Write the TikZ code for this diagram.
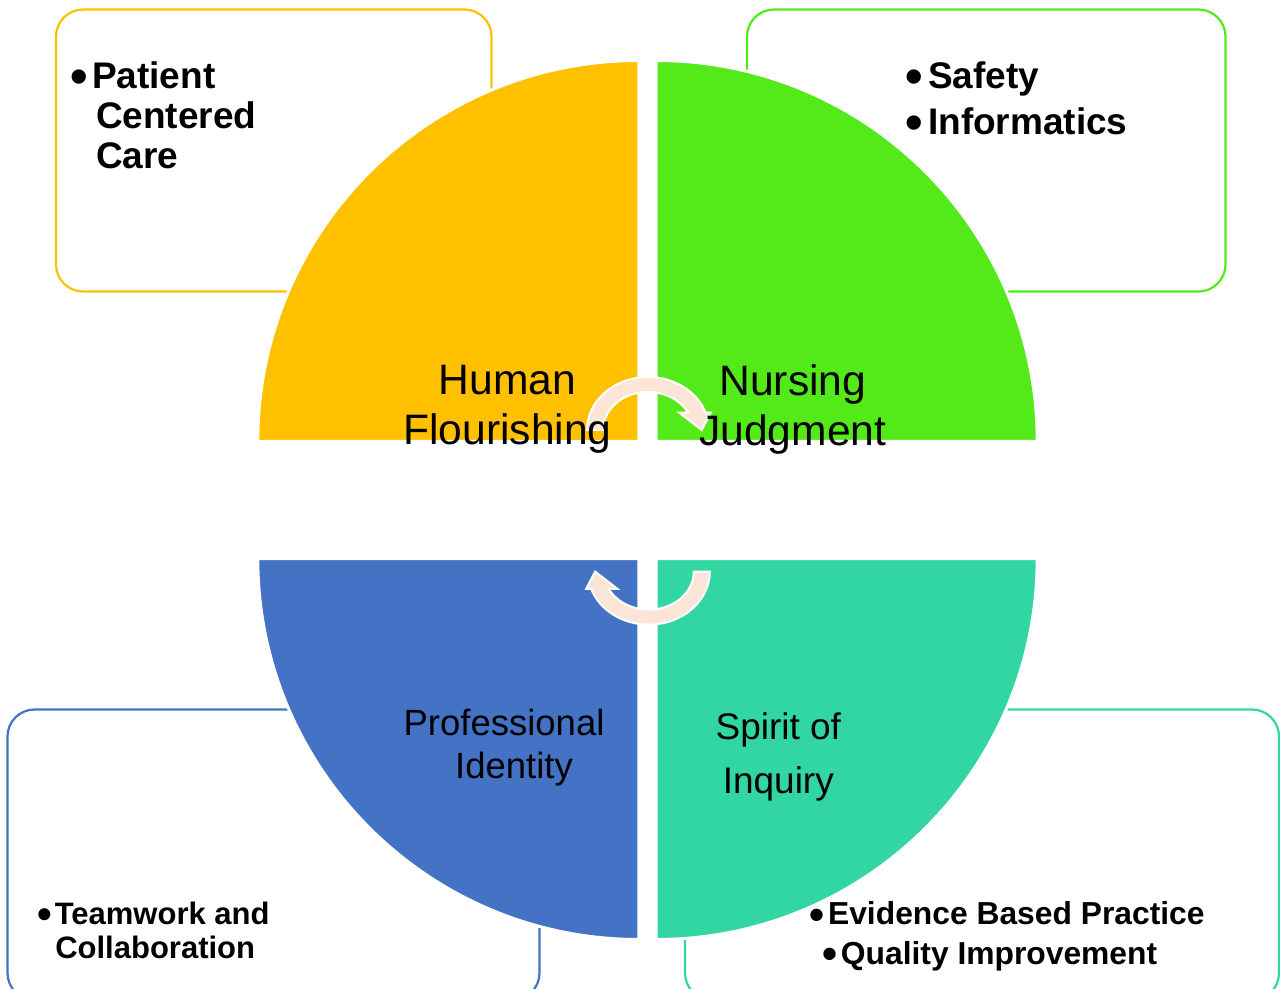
\documentclass[tikz,border=0pt]{standalone}
\usepackage{fontspec}
\setmainfont{Liberation Sans}
\usepackage{graphicx}
\definecolor{hfgold}{RGB}{255,192,0}
\definecolor{njgreen}{RGB}{84,234,26}
\definecolor{piblue}{RGB}{68,114,196}
\definecolor{siteal}{RGB}{50,214,163}
\definecolor{looppeach}{RGB}{251,229,214}
\newcommand{\bul}[1]{\makebox[#1][l]{\raisebox{-0.13em}{\scalebox{1.35}{\textbullet}}}}
\tikzset{
  panel/.style={rounded corners=13.5pt, line width=1.1pt},
  quarter/.style={draw=white, line width=1.5pt},
  biglabel/.style={font=\fontsize{21.3}{25}\selectfont, align=center, anchor=north, inner sep=0pt},
  midlabel/.style={align=center, anchor=north, inner sep=0pt},
  bulletlist/.style={align=left, anchor=north west, inner sep=0pt},
  looparrow/.pic={
    \path [fill=looppeach, draw=white, line width=1pt]
      (-61,0) arc[start angle=180, end angle=341, x radius=61, y radius=53]
      -- (62.7,-17.3) -- (53.7,0) -- (31.3,-17.3) -- (40.1,-17.3)
      arc[start angle=333, end angle=180, x radius=45, y radius=38] -- cycle;
  }
}

\begin{document}
\begin{tikzpicture}[x=0.5pt,y=0.5pt,yscale=-1,xscale=1]
\useasboundingbox (0,0) rectangle (1280,989);

%Shape: Rounded Rect [top left]
\draw [panel, draw=hfgold] (56,9.5) rectangle (491.5,291.5);
%Shape: Rounded Rect [top right]
\draw [panel, draw=njgreen] (747,9.5) rectangle (1225.5,291.5);
%Shape: Rounded Rect [bottom left]
\draw [panel, draw=piblue] (7.5,709.5) rectangle (539.5,1000);
%Shape: Rounded Rect [bottom right]
\draw [panel, draw=siteal] (685,709.5) rectangle (1279,1000);

%Shape: Quarter Circles
\path [quarter, fill=hfgold] (638.8,441.5) -- (257.8,441.5) arc[start angle=180, end angle=270, radius=381] -- cycle;
\path [quarter, fill=njgreen] (656.2,441.5) -- (656.2,60.5) arc[start angle=270, end angle=360, radius=381] -- cycle;
\path [quarter, fill=piblue] (638.8,558.5) -- (257.8,558.5) arc[start angle=180, end angle=90, radius=381] -- cycle;
\path [quarter, fill=siteal] (656.2,558.5) -- (1037.2,558.5) arc[start angle=0, end angle=90, radius=381] -- cycle;

%Shape: Circular Arrows
\pic [yscale=-1] at (648,430) {looparrow};
\pic [yscale=-1, rotate=180] at (648.8,571.6) {looparrow};

% Text Node
\node (hf) [biglabel] at (507.5,364.3) {Human\\Flourishing};
% Text Node
\node (nj) [biglabel] at (792.8,364.3) {Nursing\\Judgment};
% Text Node
\node (pi) [midlabel, font=\fontsize{18.25}{21.7}\selectfont] at (509,708.3) {Professional\hspace*{5pt}\\\hspace*{5pt}Identity};
% Text Node
\node (si) [midlabel, font=\fontsize{18.5}{26.7}\selectfont] at (778.3,712.5) {Spirit of\\Inquiry};

% Text Node
\node (pcc) [bulletlist, font=\bfseries\fontsize{18.5}{20}\selectfont] at (70,61.5) {\bul{10.8pt}Patient\\\hspace*{12.8pt}Centered\\\hspace*{12.8pt}Care};
% Text Node
\node (sfi) [bulletlist, font=\bfseries\fontsize{18.5}{23}\selectfont] at (905.3,61) {\bul{11.2pt}Safety\\\bul{11.2pt}Informatics};
% Text Node
\node (twc) [bulletlist, font=\bfseries\fontsize{15.5}{16.67}\selectfont] at (36.9,902) {\bul{8.75pt}Teamwork and\\\hspace*{9pt}Collaboration};
% Text Node
\node (ebq) [bulletlist, font=\bfseries\fontsize{15.9}{19.7}\selectfont] at (809.2,901.5) {\bul{9.25pt}Evidence Based Practice\\\hspace*{6.65pt}\bul{9pt}Quality Improvement};

\end{tikzpicture}
\end{document}
